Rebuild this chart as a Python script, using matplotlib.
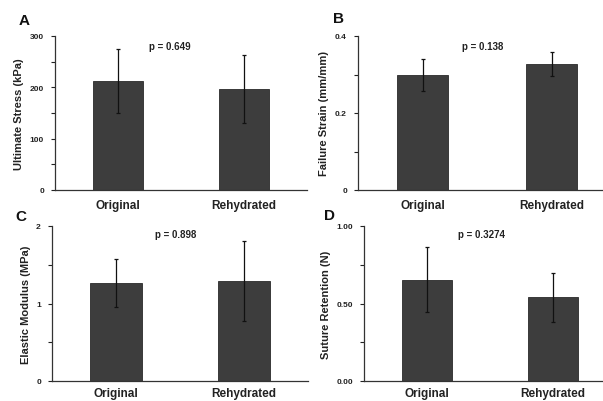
import numpy as np
import matplotlib.pyplot as plt
from matplotlib.ticker import MultipleLocator, FixedFormatter, FixedLocator

plt.rcParams['font.family'] = ['Liberation Sans', 'DejaVu Sans']
plt.rcParams['font.weight'] = 'bold'

groups = ['Original', 'Rehydrated']

stress_mean = [212, 197]
stress_err = [62, 66]
strain_mean = [0.299, 0.327]
strain_err = [0.041, 0.032]
modulus_mean = [1.26, 1.29]
modulus_err = [0.31, 0.52]
suture_mean = [0.652, 0.54]
suture_err = [0.21, 0.16]

panels = [
    # letter, means, errs, ylabel, ylim top, major ticks, labels, minor step, p text
    ('A', stress_mean, stress_err, 'Ultimate Stress (kPa)', 300,
     [0, 100, 200, 300], ['0', '100', '200', '300'], 50, 'p = 0.649'),
    ('B', strain_mean, strain_err, 'Failure Strain (mm/mm)', 0.4,
     [0, 0.2, 0.4], ['0', '0.2', '0.4'], 0.1, 'p = 0.138'),
    ('C', modulus_mean, modulus_err, 'Elastic Modulus (MPa)', 2,
     [0, 1, 2], ['0', '1', '2'], 0.5, 'p = 0.898'),
    ('D', suture_mean, suture_err, 'Suture Retention (N)', 1.0,
     [0, 0.5, 1.0], ['0.00', '0.50', '1.00'], 0.25, 'p = 0.3274'),
]

# axes rectangles in pixels: left, bottom(y from top), width, height
boxes = [(55, 191, 252, 154), (358, 191, 258, 154),
         (52, 382, 256, 155), (364, 382, 252, 155)]
letters_xy = [(24, 21), (338, 19), (21, 217), (330, 216)]
ptext_xy = [(170, 47), (483, 47), (176, 235), (481, 235)]
xpads = [6.5, 6.5, 4, 4]

W, H = 603, 402
fig = plt.figure(figsize=(6.03, 4.02), dpi=100)

for (letter, means, errs, ylabel, ytop, major, labels, minor, ptxt), box, lxy, pxy, xpad in zip(
        panels, boxes, letters_xy, ptext_xy, xpads):
    l, b, w, h = box
    ax = fig.add_axes([l / W, 1 - b / H, w / W, h / H])
    x = np.arange(len(groups))
    ax.bar(x, means, width=0.4, color='#3d3d3d', edgecolor='#2a2a2a', linewidth=0.6,
           yerr=errs, error_kw=dict(ecolor='#111111', elinewidth=0.9, capsize=1.5, capthick=0.9))
    ax.set_xlim(-0.5, 1.5)
    ax.set_ylim(0, ytop)
    ax.set_xticks(x)
    ax.set_xticklabels(groups, fontsize=8.5, fontweight='bold', color='#222222')
    ax.tick_params(axis='x', length=0, pad=xpad)
    ax.yaxis.set_major_locator(FixedLocator(major))
    ax.yaxis.set_major_formatter(FixedFormatter(labels))
    ax.yaxis.set_minor_locator(MultipleLocator(minor))
    ax.tick_params(axis='y', which='both', direction='out', length=3, width=0.8,
                   labelsize=6, pad=5, colors='#222222')
    ax.set_ylabel(ylabel, fontsize=8, fontweight='bold', color='#222222', labelpad=4)
    for s in ['top', 'right']:
        ax.spines[s].set_visible(False)
    for s in ['left', 'bottom']:
        ax.spines[s].set_color('#333333')
        ax.spines[s].set_linewidth(0.9)
    fig.text(pxy[0] / W, 1 - pxy[1] / H, ptxt, fontsize=7, fontweight='bold',
             ha='center', va='center', color='#222222')
    fig.text(lxy[0] / W, 1 - lxy[1] / H, letter, fontsize=11, fontweight='bold',
             ha='center', va='center', color='#111111')

fig.savefig('out.png', dpi=100)
